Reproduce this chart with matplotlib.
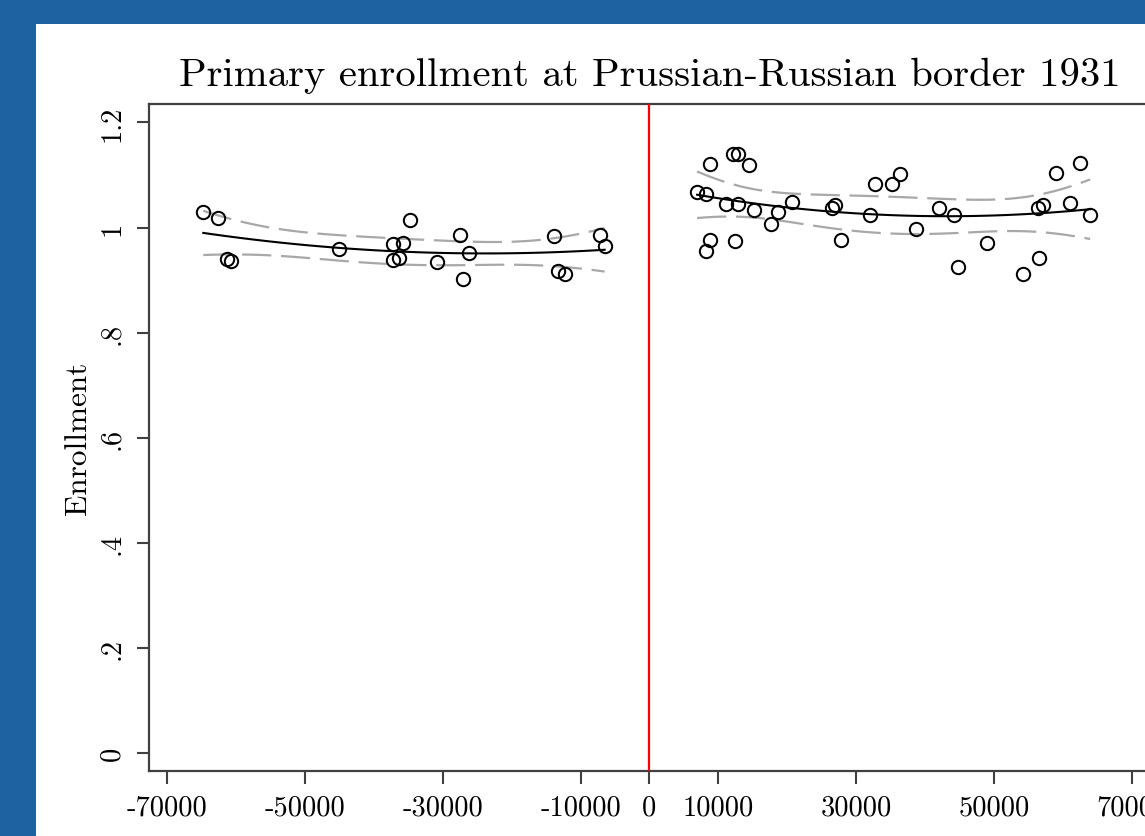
import numpy as np
import matplotlib
matplotlib.use("Agg")
import matplotlib.pyplot as plt
from matplotlib.patches import Rectangle

plt.rcParams["font.family"] = ["cmr10", "DejaVu Serif"]
plt.rcParams["lines.scale_dashes"] = False

# Districts west of the border (distance in metres, negative) and east of it
left_x = [-64700, -62500, -61200, -60700, -45000, -37200, -35800, -37200, -36300, -34700,
          -30800, -27500, -27100, -26200, -13900, -13200, -12200, -7200, -6500]
left_y = [1.029, 1.018, 0.940, 0.937, 0.959, 0.968, 0.971, 0.939, 0.942, 1.014,
          0.934, 0.986, 0.902, 0.952, 0.984, 0.917, 0.912, 0.986, 0.964]

right_x = [6900, 8200, 8800, 12100, 12800, 14400, 11100, 12900, 15100, 18700,
           20700, 17600, 8800, 8200, 12400, 26500, 26900, 27800, 31900, 32700,
           35200, 36300, 42000, 44100, 38600, 48900, 44700, 54200, 56500, 56400,
           57000, 59000, 62400, 61000, 63900]
right_y = [1.068, 1.064, 1.120, 1.139, 1.139, 1.119, 1.045, 1.045, 1.033, 1.030,
           1.049, 1.006, 0.976, 0.955, 0.974, 1.038, 1.042, 0.976, 1.024, 1.083,
           1.083, 1.102, 1.038, 1.023, 0.997, 0.971, 0.924, 0.912, 0.942, 1.038,
           1.043, 1.103, 1.123, 1.047, 1.024]

x_ticks = [-70000, -50000, -30000, -10000, 0, 10000, 30000, 50000, 70000]
x_tick_labels = ["-70000", "-50000", "-30000", "-10000", "0", "10000", "30000", "50000", "70000"]
y_ticks = [0, 0.2, 0.4, 0.6, 0.8, 1.0, 1.2]
y_tick_labels = ["0", ".2", ".4", ".6", ".8", "1", "1.2"]

# two-sided 95% t critical values by residual degrees of freedom
T975 = {16: 2.120, 32: 2.037}


def quadratic_fit_ci(x, y, n=100):
    """Quadratic least-squares fit with a 95% band for the mean prediction."""
    x = np.asarray(x, float) / 1e4
    y = np.asarray(y, float)
    X = np.column_stack([np.ones_like(x), x, x ** 2])
    beta, *_ = np.linalg.lstsq(X, y, rcond=None)
    resid = y - X @ beta
    df = len(x) - 3
    s2 = resid @ resid / df
    cov = s2 * np.linalg.inv(X.T @ X)
    xg = np.linspace(x.min(), x.max(), n)
    G = np.column_stack([np.ones_like(xg), xg, xg ** 2])
    fit = G @ beta
    se = np.sqrt(np.einsum("ij,jk,ik->i", G, cov, G))
    t = T975[df]
    return xg * 1e4, fit, fit - t * se, fit + t * se


W, H = 1145, 837
fig = plt.figure(figsize=(W / 100, H / 100), dpi=100)
fig.patch.set_facecolor("#1f62a1")
fig.add_artist(Rectangle((36 / W, 0), 1 - 36 / W, 1 - 25 / H,
                         transform=fig.transFigure, facecolor="white",
                         edgecolor="none", zorder=0))

ax = fig.add_axes([149 / W, 1 - 771.7 / H, (1150 - 149) / W, (771.7 - 105) / H])
ax.set_facecolor("white")

band_style = dict(color="#a8a8a8", lw=1.6, linestyle=(0, (21, 7)))
for xs, ys in ((left_x, left_y), (right_x, right_y)):
    xg, fit, lo, hi = quadratic_fit_ci(xs, ys)
    ax.plot(xg, hi, **band_style, zorder=2)
    ax.plot(xg, lo, **band_style, zorder=2)
    ax.plot(xg, fit, color="black", lw=1.5, zorder=3)
    ax.plot(xs, ys, linestyle="none", marker="o", markersize=9.6,
            markerfacecolor="none", markeredgecolor="black",
            markeredgewidth=1.45, zorder=4)

ax.axvline(0, color="red", lw=1.6, zorder=5)

ax.set_xlim(-72570, 72570)
ax.set_ylim(-0.0331, 1.2349)
ax.set_xticks(x_ticks)
ax.set_xticklabels(x_tick_labels)
ax.set_yticks(y_ticks)
ax.set_yticklabels(y_tick_labels, rotation=90, va="center")

for s in ax.spines.values():
    s.set_color("#404040")
    s.set_linewidth(1.6)
ax.tick_params(axis="both", direction="out", length=9, width=1.5,
               color="#404040", labelsize=20.5, pad=8)

ax.set_ylabel("Enrollment", fontsize=22.5, labelpad=5)
fig.text(649.5 / W, 1 - 86 / H, "Primary enrollment at Prussian-Russian border 1931",
         ha="center", va="baseline", fontsize=29.3)

fig.savefig("out.png", dpi=100, facecolor=fig.get_facecolor())
